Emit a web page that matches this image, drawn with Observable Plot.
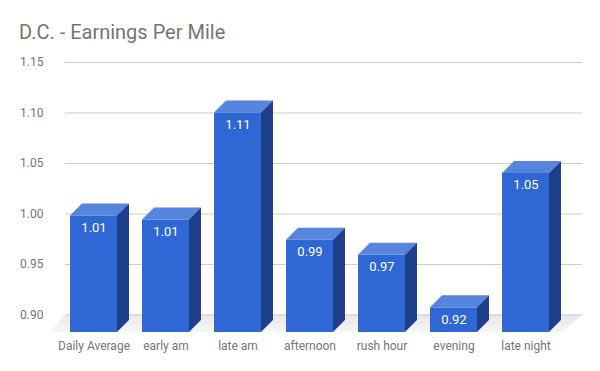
<!DOCTYPE html>
<html><head><meta charset="utf-8">
<script src="https://cdn.jsdelivr.net/npm/d3@7"></script>
<script src="https://cdn.jsdelivr.net/npm/@observablehq/plot@0.6"></script>
<style>
body{margin:0;background:#fff;font-family:Roboto,sans-serif;}
#wrap{position:relative;width:600px;height:371px;overflow:hidden;}
#title{position:absolute;left:19px;top:21.5px;font-size:20px;line-height:20px;color:#757575;white-space:nowrap;}
#chart{position:absolute;left:0;top:0;}
</style></head><body>
<div id="wrap"><div id="chart"></div><div id="title">D.C. - Earnings Per Mile</div></div>
<script>
const categories = ["Daily Average","early am","late am","afternoon","rush hour","evening","late night"];
const values = [1.010, 1.006, 1.112, 0.986, 0.971, 0.919, 1.052];
const valueLabels = ["1.01","1.01","1.11","0.99","0.97","0.92","1.05"];
const yTicks = [0.90, 0.95, 1.00, 1.05, 1.10, 1.15];
const yTickLabels = ["0.90","0.95","1.00","1.05","1.10","1.15"];
const yBase = 0.8946;

const depth = 12;
const frontColor = "#2f67d5", topColor = "#5585dc", sideColor = "#1f3f8c";
const data = categories.map((c, i) => ({cat: c, value: values[i], label: valueLabels[i]}));
const ticks = yTicks.map((v, i) => ({v, label: yTickLabels[i]}));

function floorMark(index, scales, values, dims) {
  const y = scales.y;
  const g = d3.create("svg:g");
  const grad = g.append("defs").append("linearGradient").attr("id", "floorGrad")
    .attr("x1", "1").attr("y1", "0").attr("x2", "0.85").attr("y2", "1");
  grad.append("stop").attr("offset", "0").attr("stop-color", "#e8e5ea");
  grad.append("stop").attr("offset", "1").attr("stop-color", "#f6f5f7");
  const bl = dims.marginLeft + 23, br = dims.width - dims.marginRight + 5;
  const yb = y(0.90), yf = y(yBase) + depth;
  g.append("path")
    .attr("d", `M${bl},${yb}L${br},${yb}L${br - 19},${yf}L${bl - 15},${yf}Z`)
    .attr("fill", "url(#floorGrad)");
  return g.node();
}

function barFaces(index, scales) {
  const x = scales.x, y = scales.y;
  const bw = typeof x.bandwidth === "function" ? x.bandwidth() : scales.scales.x.bandwidth;
  const g = d3.create("svg:g");
  data.forEach(d => {
    const xl = x(d.cat), xr = xl + bw;
    const yt = y(d.value), yb = y(yBase);
    g.append("path")
      .attr("d", `M${xl},${yt + depth}L${xl + depth},${yt}L${xr + depth},${yt}L${xr},${yt + depth}Z`)
      .attr("fill", topColor);
    g.append("path")
      .attr("d", `M${xr},${yt + depth}L${xr + depth},${yt}L${xr + depth},${yb}L${xr},${yb + depth}Z`)
      .attr("fill", sideColor);
  });
  return g.node();
}

const chart = Plot.plot({
  width: 600, height: 371,
  marginLeft: 42, marginRight: 23, marginTop: 62, marginBottom: 51,
  style: {fontFamily: "Roboto, sans-serif", background: "transparent", overflow: "visible"},
  x: {domain: categories, padding: 0.353, axis: null},
  y: {domain: [yBase, 1.15], axis: null},
  marks: [
    floorMark,
    Plot.ruleY(yTicks, {stroke: "#cccccc", strokeWidth: 1, insetLeft: 23, insetRight: -5}),
    Plot.barY(data, {x: "cat", y1: () => yBase, y2: "value", fill: frontColor, dy: depth}),
    barFaces,
    Plot.text(data, {x: "cat", y: "value", text: "label", fill: "white", fontSize: 13, dy: depth + 16, lineAnchor: "bottom"}),
    Plot.text(data, {x: "cat", y: () => yBase, text: "cat", fill: "#757575", fontSize: 12, dy: 29, lineAnchor: "bottom"}),
    Plot.text(ticks, {y: "v", text: "label", frameAnchor: "left", textAnchor: "end", fill: "#757575", fontSize: 12, dx: 1})
  ]
});
document.getElementById("chart").appendChild(chart);
</script>
</body></html>
